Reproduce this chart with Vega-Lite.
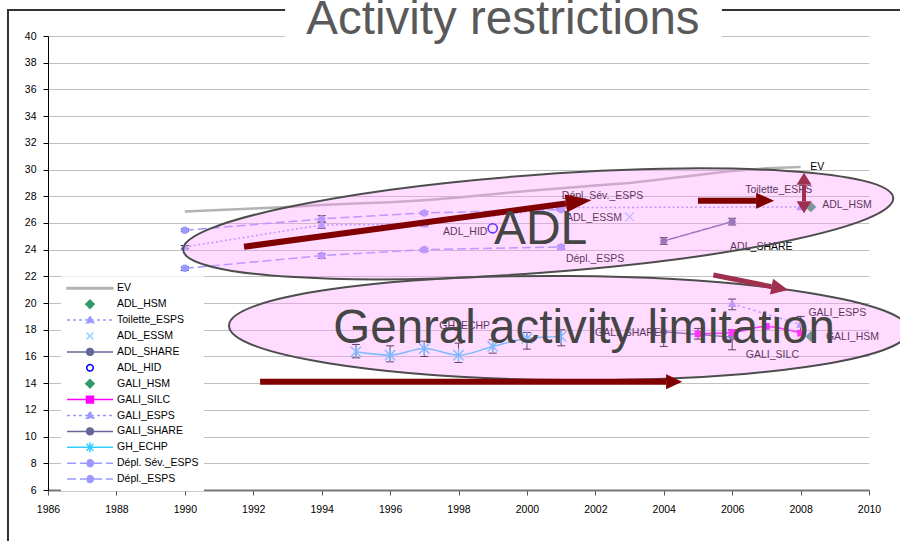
{
  "$schema": "https://vega.github.io/schema/vega-lite/v6.json",
  "width": 821,
  "height": 454,
  "autosize": {"type": "none"},
  "padding": {"left": 48, "top": 36, "right": 31, "bottom": 51},
  "background": "white",
  "config": {"view": {"stroke": null}, "font": "Liberation Sans"},
  "datasets": {
    "pts": [
      {"series": "EV", "year": 1990, "value": 26.85},
      {"series": "EV", "year": 1991, "value": 26.97},
      {"series": "EV", "year": 1992, "value": 27.08},
      {"series": "EV", "year": 1993, "value": 27.2},
      {"series": "EV", "year": 1994, "value": 27.35},
      {"series": "EV", "year": 1995, "value": 27.45},
      {"series": "EV", "year": 1996, "value": 27.55},
      {"series": "EV", "year": 1997, "value": 27.7},
      {"series": "EV", "year": 1998, "value": 27.9},
      {"series": "EV", "year": 1999, "value": 28.15},
      {"series": "EV", "year": 2000, "value": 28.4},
      {"series": "EV", "year": 2001, "value": 28.6},
      {"series": "EV", "year": 2002, "value": 28.8},
      {"series": "EV", "year": 2003, "value": 29.0},
      {"series": "EV", "year": 2004, "value": 29.3},
      {"series": "EV", "year": 2005, "value": 29.6},
      {"series": "EV", "year": 2006, "value": 29.9},
      {"series": "EV", "year": 2007, "value": 30.1},
      {"series": "EV", "year": 2008, "value": 30.2},
      {"series": "Toilette_ESPS", "year": 1990, "value": 24.2, "lo": 24.1, "hi": 24.3},
      {"series": "Toilette_ESPS", "year": 1994, "value": 25.85, "lo": 25.6, "hi": 26.1},
      {"series": "Toilette_ESPS", "year": 1997, "value": 25.9, "lo": 25.8, "hi": 26.0},
      {"series": "Toilette_ESPS", "year": 2001, "value": 27.15},
      {"series": "Toilette_ESPS", "year": 2008, "value": 27.2},
      {"series": "Dépl. Sév._ESPS", "year": 1990, "value": 25.45, "lo": 25.35, "hi": 25.55},
      {"series": "Dépl. Sév._ESPS", "year": 1994, "value": 26.3, "lo": 26.05, "hi": 26.55},
      {"series": "Dépl. Sév._ESPS", "year": 1997, "value": 26.75, "lo": 26.65, "hi": 26.85},
      {"series": "Dépl. Sév._ESPS", "year": 2001, "value": 27.0, "lo": 26.9, "hi": 27.1},
      {"series": "Dépl._ESPS", "year": 1990, "value": 22.6, "lo": 22.45, "hi": 22.7},
      {"series": "Dépl._ESPS", "year": 1994, "value": 23.55, "lo": 23.35, "hi": 23.7},
      {"series": "Dépl._ESPS", "year": 1997, "value": 24.0, "lo": 23.85, "hi": 24.1},
      {"series": "Dépl._ESPS", "year": 2001, "value": 24.2, "lo": 24.05, "hi": 24.3},
      {"series": "ADL_HID", "year": 1999, "value": 25.6},
      {"series": "ADL_ESSM", "year": 2003, "value": 26.45},
      {"series": "ADL_SHARE", "year": 2004, "value": 24.65, "lo": 24.4, "hi": 24.9},
      {"series": "ADL_SHARE", "year": 2006, "value": 26.1, "lo": 25.85, "hi": 26.35},
      {"series": "ADL_HSM", "year": 2008.3, "value": 27.2},
      {"series": "GALI_HSM", "year": 2008.3, "value": 17.5},
      {"series": "GALI_SILC", "year": 2005, "value": 17.7, "lo": 17.3, "hi": 18.1},
      {"series": "GALI_SILC", "year": 2006, "value": 17.8, "lo": 17.6, "hi": 18.0},
      {"series": "GALI_SILC", "year": 2007, "value": 18.25},
      {"series": "GALI_SILC", "year": 2008, "value": 17.75},
      {"series": "GALI_ESPS", "year": 2006, "value": 19.95, "lo": 19.5, "hi": 20.3},
      {"series": "GALI_ESPS", "year": 2008, "value": 18.4, "lo": 17.9, "hi": 19.0},
      {"series": "GALI_SHARE", "year": 2004, "value": 17.85, "lo": 16.75, "hi": 18.9},
      {"series": "GALI_SHARE", "year": 2006, "value": 17.45, "lo": 16.5, "hi": 18.0},
      {"series": "GH_ECHP", "year": 1995, "value": 16.35, "lo": 15.9, "hi": 16.9},
      {"series": "GH_ECHP", "year": 1996, "value": 16.1, "lo": 15.6, "hi": 16.8},
      {"series": "GH_ECHP", "year": 1997, "value": 16.6, "lo": 16.0, "hi": 17.15},
      {"series": "GH_ECHP", "year": 1998, "value": 16.1, "lo": 15.55, "hi": 17.0},
      {"series": "GH_ECHP", "year": 1999, "value": 16.75, "lo": 16.25, "hi": 17.25},
      {"series": "GH_ECHP", "year": 2000, "value": 17.35, "lo": 16.55, "hi": 17.8},
      {"series": "GH_ECHP", "year": 2001, "value": 17.5, "lo": 16.8, "hi": 18.0}
    ],
    "labs": [
      {"label": "EV", "x": 2008.28, "y": 30.19},
      {"label": "Toilette_ESPS", "x": 2006.38, "y": 28.47},
      {"label": "ADL_HSM", "x": 2008.63, "y": 27.34},
      {"label": "Dépl. Sév._ESPS", "x": 2001.02, "y": 28.02},
      {"label": "ADL_ESSM", "x": 2001.14, "y": 26.35},
      {"label": "ADL_HID", "x": 1997.55, "y": 25.34},
      {"label": "Dépl._ESPS", "x": 2001.14, "y": 23.28},
      {"label": "ADL_SHARE", "x": 2005.94, "y": 24.22},
      {"label": "GALI_ESPS", "x": 2008.23, "y": 19.28},
      {"label": "GALI_HSM", "x": 2008.74, "y": 17.48},
      {"label": "GALI_SILC", "x": 2006.4, "y": 16.11},
      {"label": "GALI_SHARE", "x": 2001.99, "y": 17.74},
      {"label": "GH_ECHP", "x": 1997.44, "y": 18.28}
    ],
    "arrows": [
      {"id": "A", "x": 1991.73, "y": 24.22, "x2": 2001.14, "y2": 27.46},
      {"id": "B", "x": 2005.0, "y": 27.67, "x2": 2006.7, "y2": 27.67},
      {"id": "E", "x": 1992.2, "y": 14.11, "x2": 2004.07, "y2": 14.11},
      {"id": "D", "x": 2005.45, "y": 22.1, "x2": 2007.15, "y2": 21.23},
      {"id": "C", "x": 2008.1, "y": 28.86, "x2": 2008.1, "y2": 27.62}
    ],
    "one": [{}]
  },
  "layer": [
    {
      "data": {"name": "one"},
      "mark": {"type": "rect", "fill": "transparent", "stroke": "#333333", "strokeWidth": 2},
      "encoding": {
        "x": {"datum": 1984.83, "type": "quantitative"},
        "x2": {"datum": 2012},
        "y": {"datum": 41.95, "type": "quantitative"},
        "y2": {"datum": 1}
      }
    },
    {
      "data": {"name": "one"},
      "mark": {"type": "rect", "fill": "white", "stroke": null},
      "encoding": {
        "x": {"datum": 1992.93, "type": "quantitative"},
        "x2": {"datum": 2005.7},
        "y": {"datum": 39.1, "type": "quantitative"},
        "y2": {"datum": 42.7}
      }
    },
    {
      "data": {"name": "one"},
      "mark": {"type": "text", "text": "Activity restrictions", "fontSize": 47.5, "color": "#595959", "align": "center", "baseline": "alphabetic", "font": "Liberation Sans"},
      "encoding": {
        "x": {"datum": 1999.3, "type": "quantitative"},
        "y": {"datum": 40.18, "type": "quantitative"}
      }
    },
    {
      "data": {"name": "pts"},
      "transform": [{"filter": "datum.series === 'EV'"}],
      "mark": {"type": "line", "color": "#b3b3b3", "strokeWidth": 2.5},
      "encoding": {
        "x": {
          "field": "year", "type": "quantitative", "title": null,
          "scale": {"domain": [1986, 2010], "nice": false, "zero": false},
          "axis": {
            "values": [1986, 1988, 1990, 1992, 1994, 1996, 1998, 2000, 2002, 2004, 2006, 2008, 2010],
            "tickCount": 13,
            "format": "d", "grid": false, "tickSize": 5, "tickColor": "#555555",
            "domainColor": "#777777", "domainWidth": 2, "labelFontSize": 10.5,
            "labelColor": "black", "labelPadding": 9, "labelFlush": false, "labelFont": "Liberation Sans"
          }
        },
        "y": {
          "field": "value", "type": "quantitative", "title": null,
          "scale": {"domain": [6, 40.002], "nice": false, "zero": false},
          "axis": {
            "values": [6, 8, 10, 12, 14, 16, 18, 20, 22, 24, 26, 28, 30, 32, 34, 36, 38, 40],
            "tickCount": 18,
            "grid": true, "gridColor": "#c0c0c0", "gridWidth": 1, "tickSize": 5, "tickColor": "black",
            "domainColor": "black", "domainWidth": 1, "labelFontSize": 10.5, "labelColor": "black",
            "labelPadding": 7, "labelFont": "Liberation Sans", "labelFlush": false, "labelOverlap": false
          }
        }
      }
    },
    {
      "data": {"name": "pts"},
      "transform": [{"filter": {"field": "series", "oneOf": ["Toilette_ESPS", "ADL_SHARE", "GALI_ESPS", "GALI_SHARE", "Dépl. Sév._ESPS", "Dépl._ESPS"]}}],
      "mark": {"type": "line", "strokeWidth": 1.5},
      "encoding": {
        "x": {"field": "year", "type": "quantitative", "title": null},
        "y": {"field": "value", "type": "quantitative", "title": null},
        "detail": {"field": "series"},
        "color": {
          "field": "series", "type": "nominal",
          "scale": {
            "domain": ["EV", "ADL_HSM", "Toilette_ESPS", "ADL_ESSM", "ADL_SHARE", "ADL_HID", "GALI_HSM", "GALI_SILC", "GALI_ESPS", "GALI_SHARE", "GH_ECHP", "Dépl. Sév._ESPS", "Dépl._ESPS"],
            "range": ["#b3b3b3", "#339966", "#9999ff", "#99ccff", "#666699", "#0000ff", "#339966", "#ff00ff", "#9999ff", "#666699", "#33ccff", "#9999ff", "#9999ff"]
          },
          "legend": {
            "title": null, "orient": "none", "legendX": 13, "legendY": 240.3, "padding": 5,
            "fillColor": "white", "strokeColor": null, "symbolSize": 2116, "symbolStrokeWidth": 1.5,
            "labelFontSize": 10.5, "labelFont": "Liberation Sans", "labelColor": "black",
            "labelOffset": 3, "clipHeight": 14, "rowPadding": 1.9, "labelLimit": 200,
            "encode": {
              "symbols": {
                "update": {
                  "size": {"value": 2116},
                  "strokeWidth": {"value": 1.5},
                  "shape": {"signal": "['M-1,-0.03L1,-0.03L1,0.03L-1,0.03Z','M0,-0.18L0.18,0L0,0.18L-0.18,0Z','M-1,0L1,0M0,-0.17L0.16,0.12L-0.16,0.12Z','M-0.15,-0.15L0.15,0.15M-0.15,0.15L0.15,-0.15','M-1,0L1,0M0.15,0C0.15,0.083 0.083,0.15 0,0.15C-0.083,0.15 -0.15,0.083 -0.15,0C-0.15,-0.083 -0.083,-0.15 0,-0.15C0.083,-0.15 0.15,-0.083 0.15,0Z','M0.14,0C0.14,0.077 0.077,0.14 0,0.14C-0.077,0.14 -0.14,0.077 -0.14,0C-0.14,-0.077 -0.077,-0.14 0,-0.14C0.077,-0.14 0.14,-0.077 0.14,0Z','M0,-0.18L0.18,0L0,0.18L-0.18,0Z','M-1,0L1,0M-0.15,-0.15L0.15,-0.15L0.15,0.15L-0.15,0.15Z','M-1,0L1,0M0,-0.17L0.16,0.12L-0.16,0.12Z','M-1,0L1,0M0.15,0C0.15,0.083 0.083,0.15 0,0.15C-0.083,0.15 -0.15,0.083 -0.15,0C-0.15,-0.083 -0.083,-0.15 0,-0.15C0.083,-0.15 0.15,-0.083 0.15,0Z','M-1,0L1,0M-0.15,-0.15L0.15,0.15M-0.15,0.15L0.15,-0.15M0,-0.21L0,0.21','M-1,0L1,0M0.15,0C0.15,0.083 0.083,0.15 0,0.15C-0.083,0.15 -0.15,0.083 -0.15,0C-0.15,-0.083 -0.083,-0.15 0,-0.15C0.083,-0.15 0.15,-0.083 0.15,0Z','M-1,0L1,0M0.15,0C0.15,0.083 0.083,0.15 0,0.15C-0.083,0.15 -0.15,0.083 -0.15,0C-0.15,-0.083 -0.083,-0.15 0,-0.15C0.083,-0.15 0.15,-0.083 0.15,0Z'][indexof(['EV','ADL_HSM','Toilette_ESPS','ADL_ESSM','ADL_SHARE','ADL_HID','GALI_HSM','GALI_SILC','GALI_ESPS','GALI_SHARE','GH_ECHP','Dépl. Sév._ESPS','Dépl._ESPS'], datum.value)]"},
                  "strokeDash": {"signal": "[[1,0],[1,0],[3,3],[1,0],[1,0],[1,0],[1,0],[1,0],[3,3],[1,0],[1,0],[9,4],[9,4]][indexof(['EV','ADL_HSM','Toilette_ESPS','ADL_ESSM','ADL_SHARE','ADL_HID','GALI_HSM','GALI_SILC','GALI_ESPS','GALI_SHARE','GH_ECHP','Dépl. Sév._ESPS','Dépl._ESPS'], datum.value)]"},
                  "fill": {"signal": "datum.value === 'ADL_HID' ? 'white' : scale('color', datum.value)"},
                  "stroke": {"signal": "scale('color', datum.value)"},
                  "fillOpacity": {"value": 1},
                  "opacity": {"value": 1}
                }
              }
            }
          }
        },
        "strokeDash": {
          "field": "series", "type": "nominal", "legend": null,
          "scale": {
            "domain": ["Toilette_ESPS", "ADL_SHARE", "GALI_ESPS", "GALI_SHARE", "Dépl. Sév._ESPS", "Dépl._ESPS"],
            "range": [[2, 2.5], [1, 0], [2.5, 3], [1, 0], [9, 4], [9, 4]]
          }
        }
      }
    },
    {
      "data": {"name": "pts"},
      "transform": [{"filter": {"field": "series", "oneOf": ["GH_ECHP", "GALI_SILC"]}}],
      "mark": {"type": "line", "strokeWidth": 1.5, "interpolate": "monotone"},
      "encoding": {
        "x": {"field": "year", "type": "quantitative", "title": null},
        "y": {"field": "value", "type": "quantitative", "title": null},
        "color": {"field": "series", "type": "nominal", "legend": null}
      }
    },
    {
      "data": {"name": "pts"},
      "transform": [{"filter": "isValid(datum.lo)"}],
      "mark": {"type": "errorbar", "ticks": {"size": 8, "opacity": 1, "color": "#111111"}, "rule": {"color": "#111111", "strokeWidth": 1}},
      "encoding": {
        "x": {"field": "year", "type": "quantitative", "title": null},
        "y": {"field": "lo", "type": "quantitative", "title": null},
        "y2": {"field": "hi"}
      }
    },
    {
      "data": {"name": "pts"},
      "transform": [{"filter": {"field": "series", "oneOf": ["ADL_HSM", "GALI_HSM"]}}],
      "mark": {"type": "point", "filled": true, "size": 64, "opacity": 1, "strokeWidth": 0, "color": "#339966", "shape": "M0,-1.35L1.35,0L0,1.35L-1.35,0Z"},
      "encoding": {
        "x": {"field": "year", "type": "quantitative", "title": null},
        "y": {"field": "value", "type": "quantitative", "title": null}
      }
    },
    {
      "data": {"name": "pts"},
      "transform": [{"filter": {"field": "series", "oneOf": ["Toilette_ESPS", "GALI_ESPS"]}}],
      "mark": {"type": "point", "filled": true, "size": 64, "opacity": 1, "strokeWidth": 0, "color": "#9999ff", "shape": "M0,-1.1L1.1,0.8L-1.1,0.8Z"},
      "encoding": {
        "x": {"field": "year", "type": "quantitative", "title": null},
        "y": {"field": "value", "type": "quantitative", "title": null}
      }
    },
    {
      "data": {"name": "pts"},
      "transform": [{"filter": {"field": "series", "oneOf": ["Dépl. Sév._ESPS", "Dépl._ESPS"]}}],
      "mark": {"type": "point", "filled": true, "size": 64, "opacity": 1, "strokeWidth": 0, "color": "#9999ff", "shape": "M0.95,0C0.95,0.525 0.525,0.95 0,0.95C-0.525,0.95 -0.95,0.525 -0.95,0C-0.95,-0.525 -0.525,-0.95 0,-0.95C0.525,-0.95 0.95,-0.525 0.95,0Z"},
      "encoding": {
        "x": {"field": "year", "type": "quantitative", "title": null},
        "y": {"field": "value", "type": "quantitative", "title": null}
      }
    },
    {
      "data": {"name": "pts"},
      "transform": [{"filter": {"field": "series", "oneOf": ["ADL_SHARE", "GALI_SHARE"]}}],
      "mark": {"type": "point", "filled": true, "size": 64, "opacity": 1, "strokeWidth": 0, "color": "#666699", "shape": "M0.9,0C0.9,0.497 0.497,0.9 0,0.9C-0.497,0.9 -0.9,0.497 -0.9,0C-0.9,-0.497 -0.497,-0.9 0,-0.9C0.497,-0.9 0.9,-0.497 0.9,0Z"},
      "encoding": {
        "x": {"field": "year", "type": "quantitative", "title": null},
        "y": {"field": "value", "type": "quantitative", "title": null}
      }
    },
    {
      "data": {"name": "pts"},
      "transform": [{"filter": "datum.series === 'GALI_SILC'"}],
      "mark": {"type": "point", "filled": true, "size": 64, "opacity": 1, "strokeWidth": 0, "color": "#ff00ff", "shape": "M-0.85,-0.85L0.85,-0.85L0.85,0.85L-0.85,0.85Z"},
      "encoding": {
        "x": {"field": "year", "type": "quantitative", "title": null},
        "y": {"field": "value", "type": "quantitative", "title": null}
      }
    },
    {
      "data": {"name": "pts"},
      "transform": [{"filter": "datum.series === 'ADL_ESSM'"}],
      "mark": {"type": "point", "filled": false, "size": 64, "opacity": 1, "strokeWidth": 1.2, "color": "#99ccff", "shape": "M-1.1,-1.1L1.1,1.1M-1.1,1.1L1.1,-1.1"},
      "encoding": {
        "x": {"field": "year", "type": "quantitative", "title": null},
        "y": {"field": "value", "type": "quantitative", "title": null}
      }
    },
    {
      "data": {"name": "pts"},
      "transform": [{"filter": "datum.series === 'GH_ECHP'"}],
      "mark": {"type": "point", "filled": false, "size": 64, "opacity": 1, "strokeWidth": 1.3, "color": "#33ccff", "shape": "M-1.3,-1.3L1.3,1.3M-1.3,1.3L1.3,-1.3M0,-1.7L0,1.7"},
      "encoding": {
        "x": {"field": "year", "type": "quantitative", "title": null},
        "y": {"field": "value", "type": "quantitative", "title": null}
      }
    },
    {
      "data": {"name": "pts"},
      "transform": [{"filter": "datum.series === 'ADL_HID'"}],
      "mark": {"type": "point", "filled": false, "size": 64, "opacity": 1, "strokeWidth": 1.5, "color": "#0000ff",
        "shape": "M1.15,0C1.15,0.635 0.635,1.15 0,1.15C-0.635,1.15 -1.15,0.635 -1.15,0C-1.15,-0.635 -0.635,-1.15 0,-1.15C0.635,-1.15 1.15,-0.635 1.15,0Z"},
      "encoding": {
        "x": {"field": "year", "type": "quantitative", "title": null},
        "y": {"field": "value", "type": "quantitative", "title": null}
      }
    },
    {
      "data": {"name": "labs"},
      "mark": {"type": "text", "align": "left", "baseline": "middle", "fontSize": 10.5, "color": "black", "font": "Liberation Sans"},
      "encoding": {
        "x": {"field": "x", "type": "quantitative", "title": null},
        "y": {"field": "y", "type": "quantitative", "title": null},
        "text": {"field": "label"}
      }
    },
    {
      "data": {"name": "one"},
      "mark": {"type": "point", "filled": true, "opacity": 1, "fill": "#ff99ff", "fillOpacity": 0.35, "stroke": "#4d4d4d", "strokeOpacity": 1, "strokeWidth": 2,
        "size": 506944, "angle": 355.8,
        "shape": "M-1,0C-1,-0.076 -0.552,-0.1376 0,-0.1376C0.552,-0.1376 1,-0.076 1,0C1,0.076 0.552,0.1376 0,0.1376C-0.552,0.1376 -1,0.076 -1,0Z"},
      "encoding": {
        "x": {"datum": 2000.33, "type": "quantitative"},
        "y": {"datum": 25.93, "type": "quantitative"}
      }
    },
    {
      "data": {"name": "one"},
      "mark": {"type": "point", "filled": true, "opacity": 1, "fill": "#ff99ff", "fillOpacity": 0.35, "stroke": "#4d4d4d", "strokeOpacity": 1, "strokeWidth": 2,
        "size": 462400, "angle": 0.4,
        "shape": "M-1,0C-1,-0.0845 -0.552,-0.153 0,-0.153C0.552,-0.153 1,-0.0845 1,0C1,0.0845 0.552,0.153 0,0.153C-0.552,0.153 -1,0.0845 -1,0Z"},
      "encoding": {
        "x": {"datum": 2001.23, "type": "quantitative"},
        "y": {"datum": 18.13, "type": "quantitative"}
      }
    },
    {
      "data": {"name": "arrows"},
      "transform": [{"filter": {"field": "id", "oneOf": ["A", "B", "E"]}}],
      "mark": {"type": "rule", "color": "#800000", "strokeWidth": 6, "strokeCap": "butt"},
      "encoding": {
        "x": {"field": "x", "type": "quantitative", "title": null},
        "y": {"field": "y", "type": "quantitative", "title": null},
        "x2": {"field": "x2"},
        "y2": {"field": "y2"}
      }
    },
    {
      "data": {"name": "arrows"},
      "transform": [{"filter": {"field": "id", "oneOf": ["D"]}}],
      "mark": {"type": "rule", "color": "#a0304f", "strokeWidth": 5, "strokeCap": "butt"},
      "encoding": {
        "x": {"field": "x", "type": "quantitative", "title": null},
        "y": {"field": "y", "type": "quantitative", "title": null},
        "x2": {"field": "x2"},
        "y2": {"field": "y2"}
      }
    },
    {
      "data": {"name": "arrows"},
      "transform": [{"filter": {"field": "id", "oneOf": ["C"]}}],
      "mark": {"type": "rule", "color": "#a0304f", "strokeWidth": 4, "strokeCap": "butt"},
      "encoding": {
        "x": {"field": "x", "type": "quantitative", "title": null},
        "y": {"field": "y", "type": "quantitative", "title": null},
        "x2": {"field": "x2"},
        "y2": {"field": "y2"}
      }
    },
    {
      "data": {"name": "arrows"},
      "transform": [{"filter": {"field": "id", "oneOf": ["A"]}}],
      "mark": {"type": "point", "filled": true, "opacity": 1, "color": "#800000", "strokeWidth": 0, "size": 676, "angle": 352.35, "shape": "M0,-0.69L2,0L0,0.69Z"},
      "encoding": {
        "x": {"field": "x2", "type": "quantitative", "title": null},
        "y": {"field": "y2", "type": "quantitative", "title": null}
      }
    },
    {
      "data": {"name": "arrows"},
      "transform": [{"filter": {"field": "id", "oneOf": ["B"]}}],
      "mark": {"type": "point", "filled": true, "opacity": 1, "color": "#800000", "strokeWidth": 0, "size": 324, "angle": 0, "shape": "M0,-0.89L2,0L0,0.89Z"},
      "encoding": {
        "x": {"field": "x2", "type": "quantitative", "title": null},
        "y": {"field": "y2", "type": "quantitative", "title": null}
      }
    },
    {
      "data": {"name": "arrows"},
      "transform": [{"filter": {"field": "id", "oneOf": ["E"]}}],
      "mark": {"type": "point", "filled": true, "opacity": 1, "color": "#800000", "strokeWidth": 0, "size": 256, "angle": 0, "shape": "M0,-0.94L2,0L0,0.94Z"},
      "encoding": {
        "x": {"field": "x2", "type": "quantitative", "title": null},
        "y": {"field": "y2", "type": "quantitative", "title": null}
      }
    },
    {
      "data": {"name": "arrows"},
      "transform": [{"filter": {"field": "id", "oneOf": ["D"]}}],
      "mark": {"type": "point", "filled": true, "opacity": 1, "color": "#a0304f", "strokeWidth": 0, "size": 289, "angle": 11.3, "shape": "M0,-0.94L2,0L0,0.94Z"},
      "encoding": {
        "x": {"field": "x2", "type": "quantitative", "title": null},
        "y": {"field": "y2", "type": "quantitative", "title": null}
      }
    },
    {
      "data": {"name": "arrows"},
      "transform": [{"filter": {"field": "id", "oneOf": ["C"]}}],
      "mark": {"type": "point", "filled": true, "opacity": 1, "color": "#a0304f", "strokeWidth": 0, "size": 144, "angle": 270, "shape": "M0,-1.25L2,0L0,1.25Z"},
      "encoding": {
        "x": {"field": "x", "type": "quantitative", "title": null},
        "y": {"field": "y", "type": "quantitative", "title": null}
      }
    },
    {
      "data": {"name": "arrows"},
      "transform": [{"filter": {"field": "id", "oneOf": ["C"]}}],
      "mark": {"type": "point", "filled": true, "opacity": 1, "color": "#a0304f", "strokeWidth": 0, "size": 144, "angle": 90, "shape": "M0,-1.25L2,0L0,1.25Z"},
      "encoding": {
        "x": {"field": "x2", "type": "quantitative", "title": null},
        "y": {"field": "y2", "type": "quantitative", "title": null}
      }
    },
    {
      "data": {"name": "one"},
      "mark": {"type": "text", "text": "ADL", "fontSize": 48, "color": "#454545", "align": "center", "baseline": "alphabetic", "font": "Liberation Sans"},
      "encoding": {
        "x": {"datum": 2000.4, "type": "quantitative"},
        "y": {"datum": 24.42, "type": "quantitative"}
      }
    },
    {
      "data": {"name": "one"},
      "mark": {"type": "text", "text": "Genral activity limitation", "fontSize": 47.5, "color": "#454545", "align": "center", "baseline": "alphabetic", "font": "Liberation Sans"},
      "encoding": {
        "x": {"datum": 2001.67, "type": "quantitative"},
        "y": {"datum": 17.01, "type": "quantitative"}
      }
    }
  ]
}
